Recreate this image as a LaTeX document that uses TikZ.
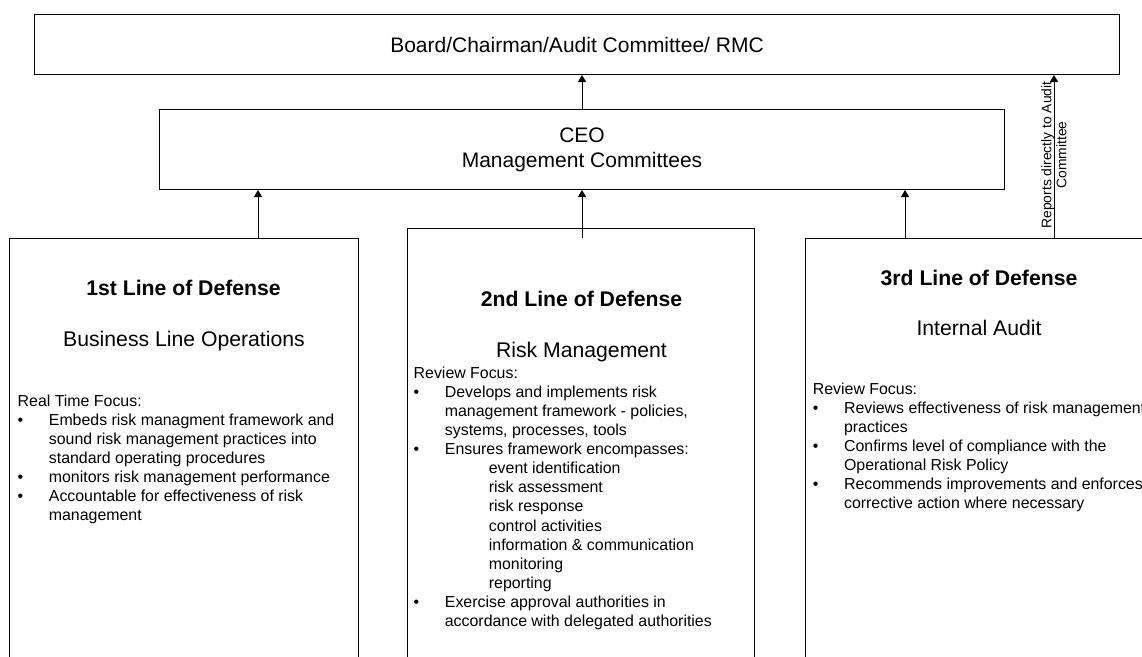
\documentclass[tikz,border=0pt]{standalone}
\usepackage{fontspec}
\setmainfont{Liberation Sans}
\usetikzlibrary{arrows.meta}
\newcommand\myb{\makebox[31.2pt][l]{\textbullet}}
\newcommand\myi{\hspace*{31.2pt}}
\newcommand\myii{\hspace*{75.2pt}}
\begin{document}
\begin{tikzpicture}[x=1pt,y=-1pt,
  box/.style={draw=black, line width=1pt, inner sep=0pt, anchor=north west},
  arr/.style={draw=black, line width=1pt, -{Triangle[width=8pt,length=7pt]}},
  big/.style={font=\fontsize{21}{25}\selectfont},
  head/.style={font=\fontsize{21.2}{25}\selectfont\bfseries, inner sep=0pt, anchor=base},
  sub/.style={font=\fontsize{21.2}{25}\selectfont, inner sep=0pt, anchor=base},
  body/.style={font=\fontsize{15.9}{19.1}\selectfont, inner sep=0pt, anchor=base west, align=left},
  side/.style={font=\fontsize{13.85}{15}\selectfont, inner sep=0pt, align=center, rotate=90}
]
\useasboundingbox (0,0) rectangle (1142,656);

% boxes
\node[box, big, minimum width=1085pt, minimum height=60pt] (top) at (34,14) {Board/Chairman/Audit Committee/ RMC};
\node[box, big, align=center, minimum width=845pt, minimum height=80pt] (ceo) at (159,109) {CEO\\Management Committees};
\node[box, minimum width=349pt, minimum height=440pt] (b1) at (9,238) {};
\node[box, minimum width=347pt, minimum height=450pt] (b2) at (407,228) {};
\node[box, minimum width=348pt, minimum height=440pt] (b3) at (805,238) {};

% box 1 text (node placed at the baseline of its last line)
\node[head] (h1) at (183.5,295.5) {1st Line of Defense};
\node[sub] (s1) at (184,346) {Business Line Operations};
\node[body] (t1) at (17.5,520.6) {Real Time Focus:\\
\myb Embeds risk managment framework and\\
\myi sound risk management practices into\\
\myi standard operating procedures\\
\myb monitors risk management performance\\
\myb Accountable for effectiveness of risk\\
\myi management};

% box 2 text
\node[head] (h2) at (581.5,306.6) {2nd Line of Defense};
\node[sub] (s2) at (581.5,357) {Risk Management};
\node[body] (t2) at (413.5,626.5) {Review Focus:\\
\myb Develops and implements risk\\
\myi management framework - policies,\\
\myi systems, processes, tools\\
\myb Ensures framework encompasses:\\
\myii event identification\\
\myii risk assessment\\
\myii risk response\\
\myii control activities\\
\myii information \& communication\\
\myii monitoring\\
\myii reporting\\
\myb Exercise approval authorities in\\
\myi accordance with delegated authorities};

% box 3 text
\node[head] (h3) at (979,285) {3rd Line of Defense};
\node[sub] (s3) at (979,335) {Internal Audit};
\node[body] (t3) at (812.7,508.6) {Review Focus:\\
\myb Reviews effectiveness of risk management\\
\myi practices\\
\myb Confirms level of compliance with the\\
\myi Operational Risk Policy\\
\myb Recommends improvements and enforces\\
\myi corrective action where necessary};

% connectors
\coordinate (c1) at (258,0);
\coordinate (c2) at (582,0);
\coordinate (c3) at (905,0);
\coordinate (c4) at (1054,0);
\coordinate (m0) at (582,238);
\draw[arr] (b1.north -| c1) -- (ceo.south -| c1);
\draw[arr] (m0) -- (ceo.south -| c2);
\draw[arr] (b3.north -| c3) -- (ceo.south -| c3);
\draw[arr] (ceo.north -| c2) -- (top.south -| c2);
\draw[arr] (b3.north -| c4) -- (top.south -| c4);

\node[side] (rep) at (1054,155) {Reports directly to Audit\\Committee};
\end{tikzpicture}
\end{document}
